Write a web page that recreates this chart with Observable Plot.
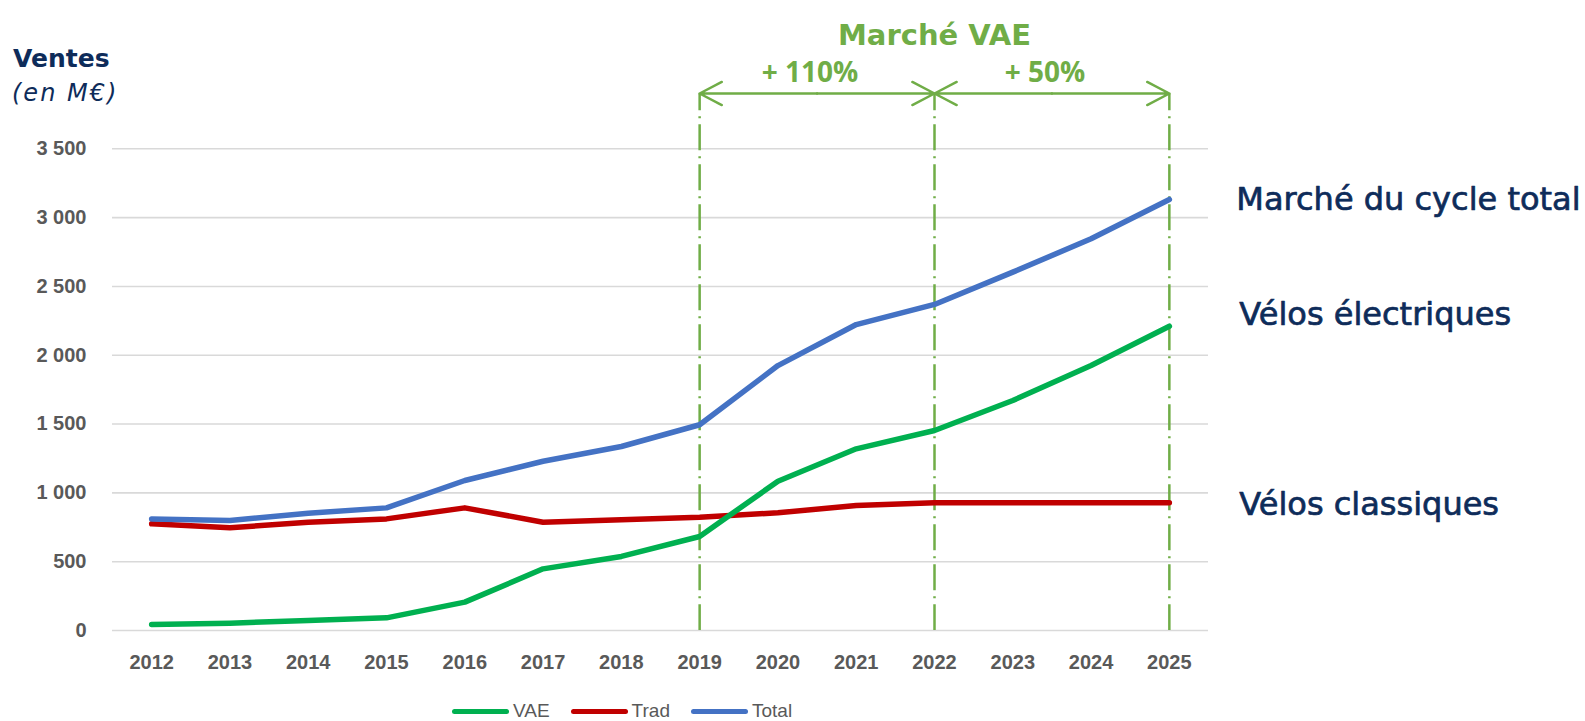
<!DOCTYPE html>
<html><head><meta charset="utf-8">
<script src="https://cdn.jsdelivr.net/npm/d3@7"></script>
<script src="https://cdn.jsdelivr.net/npm/@observablehq/plot@0.6"></script>
<style>
html,body{margin:0;padding:0;background:#fff;}
#wrap{position:relative;width:1585px;height:721px;overflow:hidden;background:#fff;}
#chart{position:absolute;left:0;top:0;}
.title{position:absolute;left:13px;top:46px;font:bold 25px/1 "DejaVu Sans",sans-serif;color:#0e2c5a;white-space:nowrap;}
.unit{position:absolute;left:12px;top:81px;font:oblique 24px/1 "DejaVu Sans",sans-serif;letter-spacing:2px;color:#0e2c5a;white-space:nowrap;}
#legend{position:absolute;left:452px;top:702px;height:18px;display:flex;align-items:center;font:19px/18px "Liberation Sans",Arial,sans-serif;color:#595959;}
#legend .sw{display:inline-block;width:57px;height:5px;border-radius:3px;margin-right:4px;}
#legend .it{display:flex;align-items:center;margin-right:21px;}
svg g[aria-label="y-axis tick label"] text, svg g[aria-label="x-axis tick label"] text{font-weight:bold;}
</style></head><body>
<div id="wrap">
  <div id="chart"></div>
  <div class="title">Ventes</div>
  <div class="unit">(en M€)</div>
  <div id="legend"></div>
</div>
<script>
// ---- data ----
const years = [2012, 2013, 2014, 2015, 2016, 2017, 2018, 2019, 2020, 2021, 2022, 2023, 2024, 2025];
const vae   = [44, 53, 73, 92, 206, 448, 538, 683, 1085, 1320, 1453, 1671, 1925, 2211];
const trad  = [775, 746, 787, 811, 891, 787, 804, 823, 855, 908, 928, 928, 928, 928];
const total = [811, 799, 852, 891, 1090, 1230, 1337, 1495, 1925, 2223, 2369, 2604, 2846, 3132];
const seriesNames  = ["VAE", "Trad", "Total"];
const seriesColors = ["#00b050", "#c00000", "#4472c4"];
const endLabels    = ["Vélos électriques", "Vélos classiques", "Marché du cycle total"];
const yTicks = [0, 500, 1000, 1500, 2000, 2500, 3000, 3500];
const markerYears = [2019, 2022, 2025];
const growthLabels = ["+ 110%", "+ 50%"];
const bannerLabel = "Marché VAE";

// ---- build ----
const seriesValues = [vae, trad, total];
const rows = seriesNames.flatMap((s, k) => years.map((yr, i) => ({series: s, year: yr, value: seriesValues[k][i]})));
const green = "#70ad47";
const navy = "#0e2c5a";
const fmt = d3.formatLocale({thousands: " ", grouping: [3], decimal: ","}).format(",");

const segments = growthLabels.map((lab, i) => ({
  start: markerYears[i], end: markerYears[i + 1],
  mid: (markerYears[i] + markerYears[i + 1]) / 2, label: lab
}));
const arrowData = segments.flatMap(s => [{from: s.mid, to: s.start}, {from: s.mid, to: s.end}]);

const drawOrder = [1, 0, 2];
const lineMarks = drawOrder.map(k => Plot.line(rows.filter(r => r.series === seriesNames[k]), {
  x: "year", y: "value", stroke: seriesColors[k], strokeWidth: 5.5,
  strokeLinecap: "round", strokeLinejoin: "round"
}));
const labelDy = [-11, 2, 0];
const endMarks = seriesNames.map((s, k) => Plot.text([endLabels[k]], {
  x: years[years.length - 1], y: seriesValues[k][years.length - 1],
  text: d => d, textAnchor: "start", dx: k === 2 ? 67 : 70, dy: labelDy[k],
  fontFamily: "DejaVu Sans", fontSize: 32, fill: navy, stroke: navy, strokeWidth: 0.7
}));

const chart = Plot.plot({
  width: 1585, height: 695,
  marginLeft: 112, marginRight: 377, marginTop: 148.3, marginBottom: 65,
  x: {domain: [2011.5, 2025.5]},
  y: {domain: [0, 3500]},
  style: {fontFamily: "'Liberation Sans', Arial, sans-serif", color: "#595959", background: "white", overflow: "visible"},
  marks: [
    Plot.ruleY(yTicks, {stroke: "#d9d9d9", strokeWidth: 1.6}),
    Plot.axisY({ticks: yTicks, tickSize: 0, tickPadding: 26, fontSize: 20, fontWeight: "bold", tickFormat: fmt, label: null}),
    Plot.axisX({ticks: years, tickSize: 0, tickPadding: 24.5, fontSize: 20, fontWeight: "bold", tickFormat: d => String(d), label: null}),
    Plot.ruleX(markerYears, {x: d => d, insetTop: -55, stroke: green, strokeWidth: 2.5, strokeDasharray: "26,6,2,6", strokeDashoffset: 9}),
    Plot.arrow(arrowData, {x1: "from", x2: "to", y1: 3500, y2: 3500, dy: -55.3, stroke: green, strokeWidth: 2.5, headLength: 15, headAngle: 55}),
    Plot.text(segments, {x: "mid", text: "label", frameAnchor: "top", dx: -7, dy: -87, fontFamily: "Open Sans", fontWeight: "bold", fontSize: 28, fill: green}),
    Plot.text([bannerLabel], {x: markerYears[1], text: d => d, frameAnchor: "top", dy: -124, fontFamily: "DejaVu Sans", fontWeight: "bold", fontSize: 29, fill: green}),
    ...lineMarks,
    ...endMarks
  ]
});
document.getElementById("chart").appendChild(chart);

const legend = document.getElementById("legend");
seriesNames.forEach((s, k) => {
  const it = document.createElement("span");
  it.className = "it";
  const sw = document.createElement("span");
  sw.className = "sw";
  sw.style.background = seriesColors[k];
  it.appendChild(sw);
  it.appendChild(document.createTextNode(s));
  legend.appendChild(it);
});
</script>
</body></html>
